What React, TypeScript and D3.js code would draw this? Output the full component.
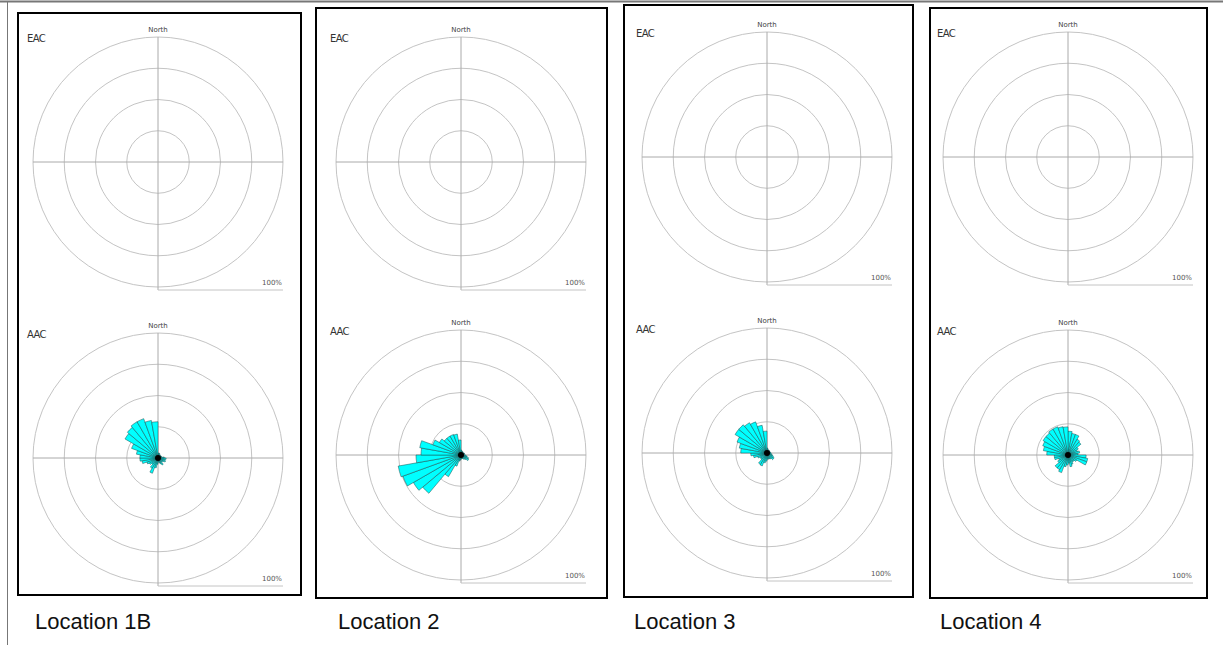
import * as d3 from 'd3';

// wind direction bins (degrees, start of each 10° sector)
const directions = [
  0, 10, 20, 30, 40, 50, 60, 70, 80, 90, 100, 110, 120, 130, 140, 150, 160, 170,
  180, 190, 200, 210, 220, 230, 240, 250, 260, 270, 280, 290, 300, 310, 320, 330, 340, 350,
];

const locations = ['Location 1B', 'Location 2', 'Location 3', 'Location 4'];

// EAC roses are empty in every location
const eacLoc1B: number[] = [];
const eacLoc2: number[] = [];
const eacLoc3: number[] = [];
const eacLoc4: number[] = [];

// AAC frequency (%) per direction bin
const aacLoc1B = [
  0.8, 0.8, 0.6, 0.6, 0.5, 0.5, 0.6, 0.6, 1.0, 1.3, 1.1, 1.3, 1.0, 0.8, 1.3, 1.0, 0.8, 0.6,
  1.0, 1.6, 2.6, 1.9, 1.3, 1.6, 1.9, 2.6, 2.9, 2.9, 3.5, 4.5, 6.1, 6.4, 6.7, 6.7, 6.1, 5.8,
];
const aacLoc2 = [
  0.8, 0.6, 0.6, 0.5, 0.5, 0.5, 0.6, 0.6, 0.5, 0.8, 1.0, 1.3, 1.4, 1.0, 0.8, 0.6, 0.6, 0.6,
  0.8, 1.0, 1.9, 4.0, 8.0, 8.8, 9.9, 10.2, 7.2, 6.4, 6.7, 4.8, 4.0, 3.5, 3.5, 3.5, 3.4, 2.4,
];
const aacLoc3 = [
  0.8, 0.6, 0.5, 0.5, 0.5, 0.5, 0.5, 0.5, 0.6, 0.6, 0.8, 1.0, 1.3, 1.4, 1.1, 1.0, 1.0, 1.0,
  1.3, 1.6, 2.2, 2.1, 1.3, 1.3, 1.6, 2.2, 2.6, 4.2, 4.5, 5.1, 5.9, 5.9, 5.6, 5.3, 4.5, 3.5,
];
const aacLoc4 = [
  3.8, 3.5, 3.5, 2.9, 2.7, 1.9, 1.6, 1.9, 1.6, 2.9, 3.2, 3.2, 1.6, 1.3, 1.3, 1.6, 1.9, 1.3,
  1.6, 1.9, 3.0, 2.7, 2.7, 1.9, 1.6, 2.2, 2.2, 3.4, 4.0, 4.3, 4.6, 4.6, 4.8, 4.8, 4.6, 4.5,
];

const ringTicks = [5, 10, 15, 20];
const scaleLabel = '100%';

const eacSeries = [eacLoc1B, eacLoc2, eacLoc3, eacLoc4];
const aacSeries = [aacLoc1B, aacLoc2, aacLoc3, aacLoc4];

// panel frames and rose centres (layout only)
const panels = [
  { x0: 18, y0: 13, x1: 301, y1: 595, cx: 158, cyTop: 162, cyBot: 458, labelX: 35 },
  { x0: 316, y0: 8, x1: 607, y1: 598, cx: 461, cyTop: 162, cyBot: 455, labelX: 338 },
  { x0: 624, y0: 5, x1: 913, y1: 597, cx: 767, cyTop: 157, cyBot: 453, labelX: 634 },
  { x0: 930, y0: 8, x1: 1207, y1: 598, cx: 1068, cyTop: 157, cyBot: 455, labelX: 940 },
];

const R = 125;
const r = d3.scaleLinear().domain([0, 20]).range([0, R]);
const arc = d3.arc<number>();

function Rose({ cx, cy, title, values }: { cx: number; cy: number; title: string; values: number[] }) {
  const grid = '#c4c4c4';
  return (
    <g transform={`translate(${cx},${cy})`}>
      {ringTicks.map(t => (
        <circle key={t} r={r(t)} fill="none" stroke={grid} strokeWidth={1} />
      ))}
      <line x1={-R} x2={R} y1={0} y2={0} stroke="#aaa" strokeWidth={1} />
      <line x1={0} x2={0} y1={-R} y2={R + 3} stroke="#aaa" strokeWidth={1} />
      <line x1={0} x2={R} y1={R + 3} y2={R + 3} stroke={grid} strokeWidth={1} />
      <text x={R - 1} y={R - 2} fontSize={7} textAnchor="end" fill="#555" fontFamily="DejaVu Sans">
        {scaleLabel}
      </text>
      <text x={0} y={-R - 5} fontSize={7} textAnchor="middle" fill="#444" fontFamily="DejaVu Sans">
        North
      </text>
      <text x={-R - 6} y={-R + 5} fontSize={10} fill="#333" fontFamily="DejaVu Sans" letterSpacing={-0.6}>
        {title}
      </text>
      {values.map((v, i) => {
        const a0 = (directions[i] * Math.PI) / 180;
        const a1 = ((directions[i] + 10) * Math.PI) / 180;
        const path = arc({ innerRadius: 0, outerRadius: r(v), startAngle: a0, endAngle: a1 } as any);
        return <path key={i} d={path || ''} fill="#00ffff" stroke="#1a4a4a" strokeWidth={0.5} />;
      })}
      {values.length > 0 && <circle r={3} fill="#000" />}
    </g>
  );
}

export default function App() {
  return (
    <svg
      width={1223}
      height={645}
      style={{ position: 'absolute', left: 0, top: 0, background: '#fff' }}
    >
      <line x1={0} x2={1223} y1={1.5} y2={1.5} stroke="#777" strokeWidth={2} />
      <line x1={7.5} x2={7.5} y1={1} y2={645} stroke="#777" strokeWidth={1} />
      {panels.map((p, i) => (
        <g key={i}>
          <rect
            x={p.x0}
            y={p.y0}
            width={p.x1 - p.x0}
            height={p.y1 - p.y0}
            fill="#fff"
            stroke="#000"
            strokeWidth={2}
          />
          <Rose cx={p.cx} cy={p.cyTop} title="EAC" values={eacSeries[i]} />
          <Rose cx={p.cx} cy={p.cyBot} title="AAC" values={aacSeries[i]} />
          <text x={p.labelX} y={629} fontSize={22} fill="#111" fontFamily="Liberation Sans, Arial">
            {locations[i]}
          </text>
        </g>
      ))}
    </svg>
  );
}
